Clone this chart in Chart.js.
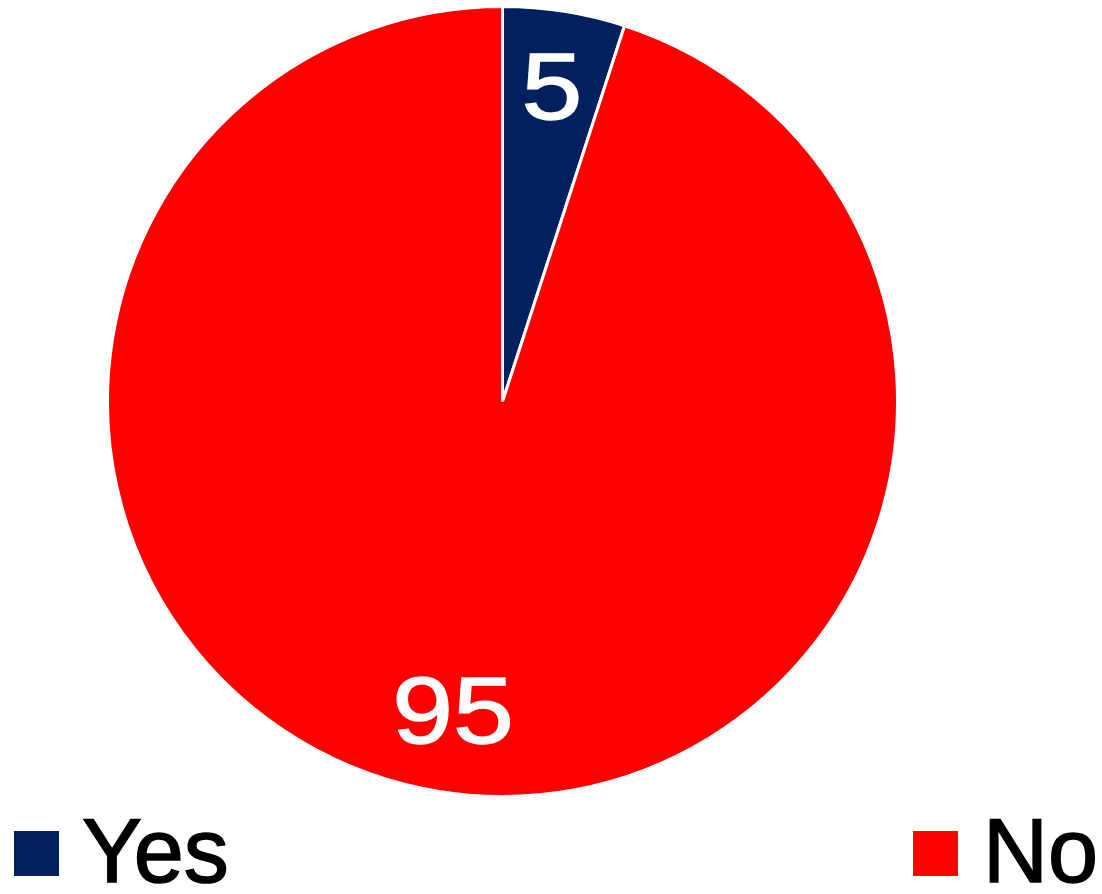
<!DOCTYPE html>
<html>
<head>
<meta charset="utf-8">
<script src="https://cdn.jsdelivr.net/npm/chart.js@4"></script>
<style>
  body { margin: 0; background: #fff; font-family: "Liberation Sans", Arial, sans-serif; }
  #wrap { position: relative; width: 1102px; height: 894px; }
  .box { position: absolute; top: 831px; width: 45px; height: 45px; }
  .txt { position: absolute; top: 806px; font-size: 90px; line-height: 90px; color: #000; -webkit-text-stroke: 1.5px #000; white-space: nowrap; }
</style>
</head>
<body>
<div id="wrap">
  <canvas id="pie" width="1102" height="800"></canvas>
  <span class="box" id="boxYes" style="left:14px"></span><span class="txt" id="txtYes" style="left:82px"></span>
  <span class="box" id="boxNo" style="left:913px"></span><span class="txt" id="txtNo" style="left:983px"></span>
</div>
<script>
// datos
const labels = ["Yes", "No"];
const valores = [5, 95];
const colores = ["#002060", "#FF0000"];

// leyenda a mano (los dos items van separados a los lados)
["Yes", "No"].forEach((k, i) => {
  document.getElementById("box" + k).style.background = colores[i];
  document.getElementById("txt" + k).textContent = labels[i];
});

// etiquetas blancas dentro de cada sector
const etiquetasPlugin = {
  id: "etiquetas",
  afterDatasetsDraw(chart) {
    const ctx = chart.ctx;
    const meta = chart.getDatasetMeta(0);
    meta.data.forEach((arc, i) => {
      const { x, y, startAngle, endAngle, outerRadius } = arc.getProps(["x", "y", "startAngle", "endAngle", "outerRadius"], true);
      const mid = (startAngle + endAngle) / 2;
      const r = outerRadius * 0.8;
      const px = x + Math.cos(mid) * r;
      const py = y + Math.sin(mid) * r;
      ctx.save();
      ctx.translate(px, py);
      ctx.scale(1.15, 1); // los números del original son más anchos
      ctx.fillStyle = "#fff";
      ctx.strokeStyle = "#fff";
      ctx.lineWidth = 1.5;
      ctx.font = '95px "Liberation Sans", Arial, sans-serif';
      ctx.textAlign = "center";
      ctx.textBaseline = "middle";
      ctx.fillText(String(valores[i]), 0, 3);
      ctx.strokeText(String(valores[i]), 0, 3);
      ctx.restore();
    });
  },
};

new Chart(document.getElementById("pie"), {
  type: "pie",
  data: {
    labels,
    datasets: [{
      data: valores,
      backgroundColor: colores,
      borderColor: "#fff",
      borderWidth: 3,
    }],
  },
  options: {
    responsive: false,
    animation: false,
    layout: { padding: { top: 5, bottom: 2, left: 0, right: 97 } },
    plugins: {
      legend: { display: false },
      tooltip: { enabled: false },
    },
  },
  plugins: [etiquetasPlugin],
});
</script>
</body>
</html>
